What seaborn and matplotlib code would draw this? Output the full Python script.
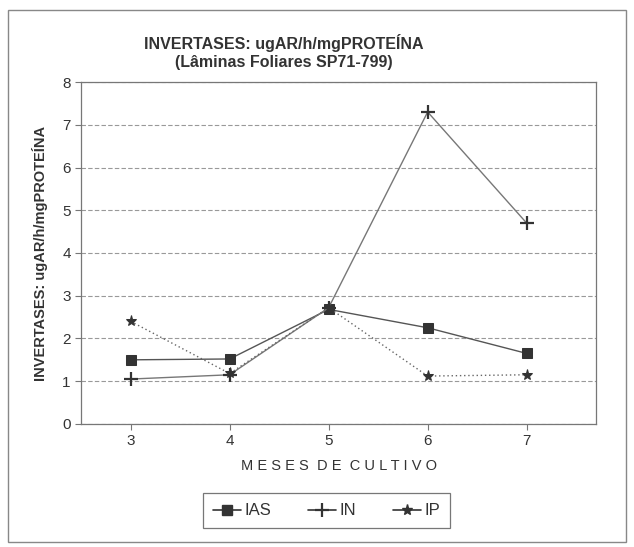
import matplotlib
matplotlib.use("Agg")
import matplotlib.pyplot as plt
import seaborn as sns
import pandas as pd
from matplotlib.patches import Rectangle
from matplotlib.lines import Line2D

meses = [3, 4, 5, 6, 7]
ias = [1.50, 1.52, 2.68, 2.25, 1.65]
inn = [1.05, 1.15, 2.72, 7.30, 4.70]
ip = [2.40, 1.18, 2.72, 1.12, 1.15]
series = ["IAS", "IN", "IP"]

df = pd.DataFrame({
    "mes": meses * 3,
    "valor": ias + inn + ip,
    "serie": [s for s in series for _ in meses],
})

sns.set_theme(style="white")
plt.rcParams["font.family"] = ["Liberation Sans", "DejaVu Sans"]
txt = "#333333"

fig = plt.figure(figsize=(6.34, 5.47), dpi=100)
ax = fig.add_axes([0.128, 0.225, 0.812, 0.625])

colors = {"IAS": "#555555", "IN": "#777777", "IP": "#666666"}
sns.lineplot(data=df, x="mes", y="valor", hue="serie", style="serie",
             markers={"IAS": "s", "IN": "P", "IP": "*"},
             dashes={"IAS": "", "IN": "", "IP": (1, 2)},
             palette=colors, ax=ax, linewidth=1.0, legend=False)
for line, s in zip(ax.get_lines(), series):
    if s == "IAS":
        line.set_marker("s"); line.set_markersize(7)
        line.set_markerfacecolor("#333333"); line.set_markeredgecolor("#333333")
    elif s == "IN":
        line.set_marker("+"); line.set_markersize(10)
        line.set_markeredgewidth(1.6); line.set_markeredgecolor("#333333")
    else:
        line.set_marker("*"); line.set_markersize(8)
        line.set_markerfacecolor("#333333"); line.set_markeredgecolor("#333333")

ax.set_xlim(2.5, 7.7)
ax.set_ylim(0, 8)
ax.set_xticks(meses)
ax.set_yticks(range(0, 9))
ax.yaxis.grid(True, linestyle=(0, (4, 2)), color="#999999", linewidth=0.8)
ax.xaxis.grid(False)
for sp in ax.spines.values():
    sp.set_color("#777777"); sp.set_linewidth(0.9)
ax.tick_params(axis="both", direction="out", length=4, width=0.8, color="#777777",
               labelsize=11, labelcolor=txt, left=True, bottom=True)
ax.set_xlabel("M E S E S  D E  C U L T I V O", fontsize=10.5, color=txt, labelpad=8)
ax.set_ylabel("INVERTASES: ugAR/h/mgPROTEÍNA", fontsize=10.5, color=txt,
              fontweight="bold", labelpad=10)

fig.text(0.447, 0.905, "INVERTASES: ugAR/h/mgPROTEÍNA\n(Lâminas Foliares SP71-799)",
         ha="center", va="center", fontsize=11.5, fontweight="bold", color=txt,
         linespacing=1.3)

handles = [
    Line2D([], [], color="#333333", marker="s", markersize=7, linewidth=1.2),
    Line2D([], [], color="#333333", marker="+", markersize=10, markeredgewidth=1.6, linewidth=1.2),
    Line2D([], [], color="#333333", marker="*", markersize=8, linewidth=1.2),
]
leg = fig.legend(handles, series, loc="center", bbox_to_anchor=(0.515, 0.066),
                 ncol=3, frameon=True, fancybox=False, fontsize=12,
                 handlelength=1.7, handletextpad=0.2, columnspacing=2.2,
                 borderpad=0.6, edgecolor="#555555")
leg.get_frame().set_linewidth(0.9)
for t in leg.get_texts():
    t.set_color(txt)

fig.patches.append(Rectangle((0.012, 0.01), 0.976, 0.972, transform=fig.transFigure,
                             fill=False, edgecolor="#888888", linewidth=1.0))

fig.savefig("out.png", dpi=100)
